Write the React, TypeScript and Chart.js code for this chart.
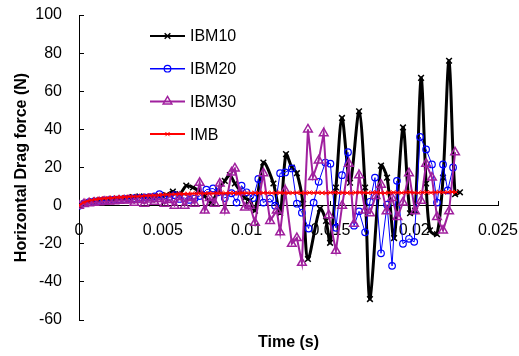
import React, { useEffect, useRef } from "react";
import { Chart, registerables } from "chart.js";
import { drawPoint } from "chart.js/helpers";

Chart.register(...registerables);

const FONT = "'Liberation Sans', Arial, sans-serif";

const xTickLabels = ["0", "0.005", "0.01", "0.015", "0.02", "0.025"];
const seriesNames = ["IBM10", "IBM20", "IBM30", "IMB"];

const ibm10Time = [0, 0.0004, 0.0008, 0.0012, 0.0016, 0.002, 0.0024, 0.0028, 0.0032, 0.0036, 0.004, 0.0044, 0.0048, 0.0052, 0.0056, 0.006, 0.0064, 0.0068, 0.0071, 0.0075, 0.0079, 0.0083, 0.0087, 0.009, 0.0093, 0.0096, 0.0099, 0.0102, 0.0105, 0.011, 0.0116, 0.012, 0.01235, 0.0127, 0.013, 0.01337, 0.01366, 0.01438, 0.01474, 0.01498, 0.01533, 0.01569, 0.01617, 0.01671, 0.01707, 0.01736, 0.01802, 0.01838, 0.0188, 0.01933, 0.01975, 0.02005, 0.02041, 0.02071, 0.02094, 0.02136, 0.02172, 0.02208, 0.02244, 0.02273];
const ibm10Force = [0, 1.5, 2.2, 2.6, 3, 3.3, 3.6, 4, 4.5, 4.8, 4.3, 4.6, 4.8, 5.5, 7.4, 6, 10.5, 9.5, 8, 5, 1.6, 8, 13, 16, 11.6, 8, 4, 2.6, -2.6, 22.6, 11.6, -4, 27, 20, 17, 1, -28, -1.6, -8, -19.5, 9.5, 46, 12, 49.5, 9.5, -49, 21, 14.7, -17, 41, -4, -2.6, 67, 11.6, -13, -15, 14.7, 76, 6, 7];

const ibm20Time = [0, 0.0003, 0.0006, 0.0009, 0.0012, 0.0015, 0.0018, 0.0021, 0.0024, 0.0027, 0.003, 0.0033, 0.0036, 0.0039, 0.0042, 0.0045, 0.0048, 0.0051, 0.0054, 0.0057, 0.006, 0.0063, 0.0066, 0.0069, 0.0072, 0.0076, 0.008, 0.0083, 0.0087, 0.0091, 0.0094, 0.0097, 0.01, 0.0104, 0.0107, 0.011, 0.0114, 0.0117, 0.012, 0.0123, 0.0127, 0.013, 0.0133, 0.0137, 0.014, 0.0143, 0.0147, 0.015, 0.01533, 0.01569, 0.01605, 0.01641, 0.01671, 0.01707, 0.01736, 0.01766, 0.01802, 0.01838, 0.01868, 0.01897, 0.01933, 0.01969, 0.02, 0.02035, 0.02071, 0.02106, 0.02136, 0.02172, 0.022, 0.02232];
const ibm20Force = [0, 1.2, 1.8, 2.2, 2.5, 2.7, 2.9, 3.1, 3.3, 3.5, 3.7, 3.9, 4.1, 4.3, 4.4, 4.8, 6, 3.5, 4.5, 5.5, 3.5, 4, 3, 3.7, 5, 8.4, 9, 7, 4, 6.5, 1.6, 10.5, 7, 4, 14, 1.6, 3.7, 0, 17, 17.4, 19.5, 1, -3.7, -12, 1.6, 12.5, 22.6, 22, -11.6, 16, 28, -10.5, -3, -14, 2, 14.7, -25, 0.5, -31.6, 13, -20, -17.4, -19, 36, 29.5, 21.6, 1.6, 21.6, 8, 20];

const ibm30Time = [0, 0.0003, 0.0006, 0.0009, 0.0012, 0.0015, 0.0018, 0.0021, 0.0024, 0.0027, 0.003, 0.0033, 0.0036, 0.0039, 0.0042, 0.0045, 0.0048, 0.0051, 0.0054, 0.0057, 0.006, 0.0063, 0.0066, 0.0069, 0.0072, 0.0075, 0.0078, 0.0081, 0.0084, 0.0087, 0.0091, 0.0093, 0.0096, 0.0099, 0.0102, 0.0105, 0.011, 0.0114, 0.0118, 0.012, 0.0123, 0.0127, 0.013, 0.0133, 0.01366, 0.01396, 0.0143, 0.0146, 0.0149, 0.01533, 0.0157, 0.0161, 0.01641, 0.01671, 0.01707, 0.01736, 0.0177, 0.01802, 0.01835, 0.01868, 0.019, 0.01933, 0.01969, 0.02005, 0.02041, 0.02071, 0.02106, 0.02136, 0.02172, 0.02208, 0.02244];
const ibm30Force = [0, 0.8, 1.2, 1.5, 1.8, 2, 2.2, 2.3, 2.5, 2.7, 2.8, 1.5, 3, 1, 3.2, 2, 3.5, 1, 3, 0, 4.5, 0, 4, 1, 12, -2.6, 4, 1, 11.6, -2.6, 17.4, 19.5, 7, -1, 0, -9, 17, -8, -2.6, -14, 8, -20, -17, -30, 40, 15, 23.7, 38, -5, -23.7, 0, 22, -9.5, 16, -2.6, -4, 5, 11, -3, 4, -6, 1.6, 17, -3, 2.6, 22, 14.7, -6, -13, -3, 28];

const imbTimeStep = 0.00025;
const imbForce = [
  0, 1.6, 2.4, 2.9, 3.3, 3.6, 3.8, 4.0, 4.1, 4.3,
  4.4, 4.5, 4.7, 4.8, 4.9, 5.0, 5.2, 5.3, 5.4, 5.5,
  5.7, 5.8, 5.9, 6.0, 6.1, 6.1, 6.2, 6.3, 6.3,
  6.4, 6.4, 6.5, 6.4, 6.5, 6.6, 6.5, 6.6, 6.6, 6.5,
  6.7, 6.6, 6.6, 6.7, 6.6, 6.7, 6.7, 6.6, 6.7, 6.8,
  6.7, 6.6, 6.7, 6.8, 6.7, 6.6, 6.8, 6.7, 6.8, 6.7,
  6.6, 6.8, 6.9, 6.7, 6.8, 6.7, 6.6, 6.8, 6.9, 6.8,
  6.7, 6.8, 6.9, 6.7, 6.6, 6.8, 6.9, 6.8, 6.7, 6.9,
  7.0, 6.8, 6.7, 6.9, 7.0, 6.8, 6.9, 7.1, 6.9, 7.0,
  7.2, 7.1,
];
const imbTime = imbForce.map((_, i) => i * imbTimeStep);

const toPoints = (t: number[], v: number[]) => t.map((x, i) => ({ x, y: v[i] }));

const legendPlugin = {
  id: "lineMarkerLegend",
  afterDraw(chart: any) {
    const ctx = chart.ctx;
    const x0 = 150;
    const x1 = 185;
    const yStart = 36;
    const dy = 32.7;
    chart.data.datasets.forEach((ds: any, i: number) => {
      const y = yStart + i * dy;
      ctx.save();
      ctx.strokeStyle = ds.borderColor;
      ctx.lineWidth = ds.legendLineWidth;
      ctx.beginPath();
      ctx.moveTo(x0, y);
      ctx.lineTo(x1, y);
      ctx.stroke();
      ctx.strokeStyle = ds.pointBorderColor;
      ctx.fillStyle = "rgba(0,0,0,0)";
      ctx.lineWidth = ds.pointBorderWidth;
      drawPoint(ctx, { pointStyle: ds.pointStyle, radius: ds.pointRadius, rotation: 0, borderWidth: ds.pointBorderWidth } as any, (x0 + x1) / 2, y);
      ctx.fillStyle = "#000";
      ctx.font = `16px ${FONT}`;
      ctx.textAlign = "left";
      ctx.textBaseline = "middle";
      ctx.fillText(ds.label, 190, y + 1);
      ctx.restore();
    });
  },
};

export default function App() {
  const ref = useRef<HTMLCanvasElement>(null);
  useEffect(() => {
    const chart = new Chart(ref.current as HTMLCanvasElement, {
      type: "line",
      data: {
        datasets: [
          {
            label: seriesNames[0],
            data: toPoints(ibm10Time, ibm10Force),
            borderColor: "#000000",
            borderWidth: 3,
            tension: 0.3,
            pointStyle: "crossRot",
            pointRadius: 4,
            pointBorderColor: "#000000",
            pointBorderWidth: 1.5,
            pointBackgroundColor: "rgba(0,0,0,0)",
            legendLineWidth: 2,
            order: 3,
          } as any,
          {
            label: seriesNames[1],
            data: toPoints(ibm20Time, ibm20Force),
            borderColor: "#0000FF",
            borderWidth: 1,
            tension: 0,
            pointStyle: "circle",
            pointRadius: 3.3,
            pointBorderColor: "#0000FF",
            pointBorderWidth: 1.2,
            pointBackgroundColor: "rgba(0,0,0,0)",
            legendLineWidth: 1.5,
            order: 2,
          } as any,
          {
            label: seriesNames[2],
            data: toPoints(ibm30Time, ibm30Force),
            borderColor: "#A0209E",
            borderWidth: 2,
            tension: 0,
            pointStyle: "triangle",
            pointRadius: 5,
            pointBorderColor: "#A0209E",
            pointBorderWidth: 1.5,
            pointBackgroundColor: "rgba(0,0,0,0)",
            legendLineWidth: 2,
            order: 1,
          } as any,
          {
            label: seriesNames[3],
            data: toPoints(imbTime, imbForce),
            borderColor: "#FF0000",
            borderWidth: 1.8,
            tension: 0,
            pointStyle: "crossRot",
            pointRadius: 3,
            pointBorderColor: "#FF0000",
            pointBorderWidth: 1,
            pointBackgroundColor: "rgba(0,0,0,0)",
            legendLineWidth: 2,
            order: 0,
          } as any,
        ],
      },
      options: {
        animation: false,
        responsive: false,
        devicePixelRatio: 1,
        layout: { padding: { left: 12, top: 15, right: 21, bottom: 0 } },
        plugins: {
          legend: { display: false },
          tooltip: { enabled: false },
          title: {
            display: true,
            text: "Time (s)",
            position: "bottom",
            fullSize: false,
            color: "#000",
            font: { family: FONT, size: 16, weight: "bold" },
            padding: { top: 13.4, bottom: 3.4 },
          },
        },
        scales: {
          x: {
            type: "linear",
            min: 0,
            max: 0.025,
            position: { y: 0 } as any,
            border: { display: true, color: "#000", width: 1 },
            grid: { display: true, drawOnChartArea: false, drawTicks: true, tickLength: -5, color: "#000" },
            ticks: {
              stepSize: 0.005,
              color: "#000",
              padding: 20.5,
              maxRotation: 0,
              font: { family: FONT, size: 16 },
              callback: (_v: any, i: number) => xTickLabels[i],
            },
            afterFit: (scale: any) => {
              scale.height = 0;
              scale.paddingLeft = 0;
              scale.paddingRight = 0;
            },
          },
          y: {
            type: "linear",
            min: -60,
            max: 100,
            position: "left",
            border: { display: true, color: "#000", width: 1 },
            grid: { display: true, drawOnChartArea: false, drawTicks: true, tickLength: -5, color: "#000" },
            ticks: { stepSize: 20, color: "#000", padding: 22, font: { family: FONT, size: 16 } },
            title: {
              display: true,
              text: "Horizontal Drag force (N)",
              color: "#000",
              font: { family: FONT, size: 16, weight: "bold" },
              padding: { top: 0, bottom: 0 },
            },
            afterFit: (scale: any) => {
              scale.width = 67;
              scale.paddingTop = 10;
              scale.paddingBottom = 10;
            },
          },
        },
      } as any,
      plugins: [legendPlugin],
    });
    return () => chart.destroy();
  }, []);
  return (
    <div style={{ position: "fixed", left: 0, top: 0, width: 519, height: 356, background: "#fff" }}>
      <canvas ref={ref} width={519} height={356} style={{ display: "block", width: 519, height: 356 }} />
    </div>
  );
}
